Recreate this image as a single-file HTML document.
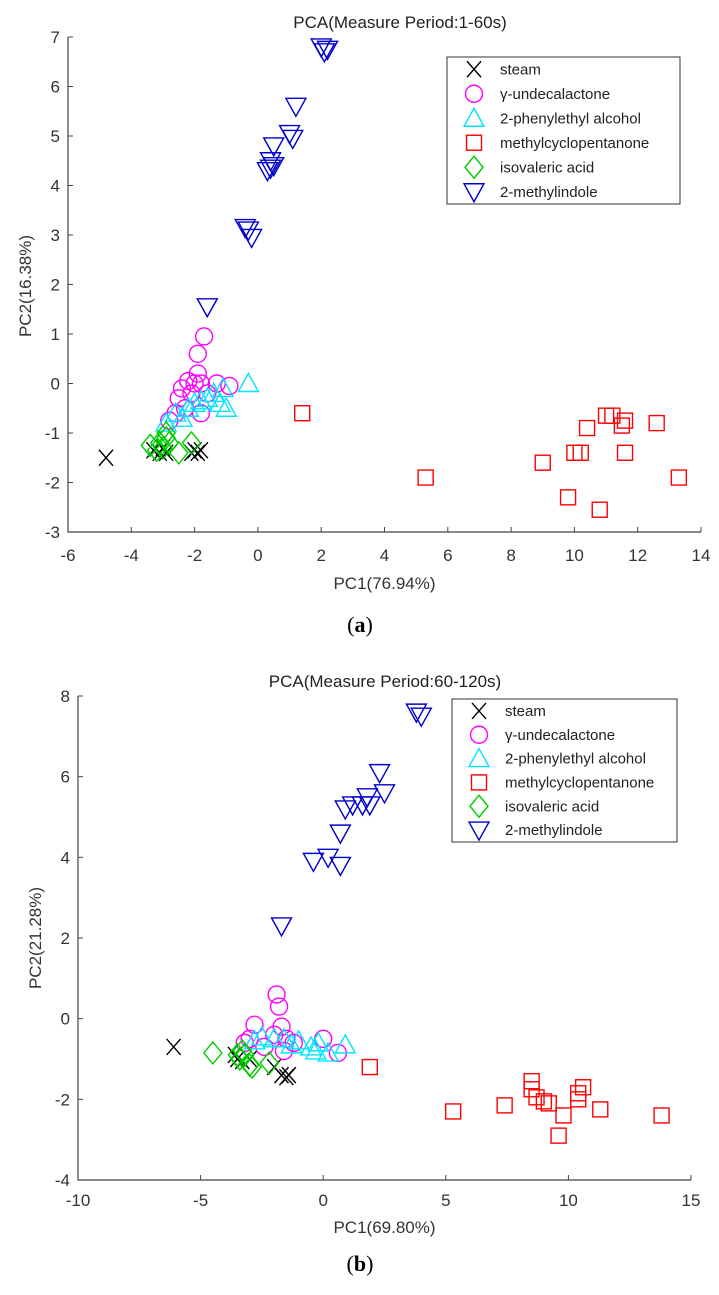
<!DOCTYPE html>
<html><head><meta charset="utf-8"><style>
body{margin:0;background:#fff;width:719px;height:1290px;overflow:hidden;font-family:"Liberation Sans",sans-serif}
svg text{font-family:"Liberation Sans",sans-serif}
.cap{font-family:"Liberation Serif",serif;font-size:22px}
</style></head><body>
<svg id="s" width="719" height="1290"></svg>
<script>
const seriesNames=["steam","γ-undecalactone","2-phenylethyl alcohol","methylcyclopentanone","isovaleric acid","2-methylindole"];
const aXTicks=[-6,-4,-2,0,2,4,6,8,10,12,14];
const aYTicks=[-3,-2,-1,0,1,2,3,4,5,6,7];
const aSteam=[[-4.8,-1.5],[-3.3,-1.35],[-3.1,-1.4],[-2.9,-1.4],[-3.0,-1.3],[-2.0,-1.35],[-1.9,-1.4],[-2.1,-1.4],[-1.8,-1.35]];
const aUnd=[[-1.7,0.95],[-1.9,0.6],[-1.9,0.2],[-2.4,-0.1],[-2.0,0.0],[-1.8,0.0],[-2.2,0.05],[-1.3,0.0],[-0.9,-0.05],[-2.5,-0.3],[-2.1,-0.2],[-2.8,-0.75],[-2.6,-0.6],[-1.8,-0.6],[-2.3,-0.5],[-1.6,-0.2]];
const aPhe=[[-0.3,0.0],[-1.0,-0.5],[-1.2,-0.4],[-1.6,-0.3],[-2.0,-0.4],[-2.2,-0.5],[-2.6,-0.6],[-1.4,-0.2],[-1.8,-0.35],[-1.1,-0.1],[-2.4,-0.7],[-2.9,-0.8]];
const aMcp=[[1.4,-0.6],[5.3,-1.9],[9.0,-1.6],[9.8,-2.3],[10.0,-1.4],[10.2,-1.4],[10.4,-0.9],[10.8,-2.55],[11.0,-0.65],[11.2,-0.65],[11.5,-0.85],[11.6,-0.75],[11.6,-1.4],[12.6,-0.8],[13.3,-1.9]];
const aIso=[[-3.4,-1.25],[-3.1,-1.2],[-2.9,-1.1],[-3.0,-1.3],[-2.8,-1.2],[-3.2,-1.35],[-2.5,-1.4],[-2.1,-1.2],[-2.9,-1.0]];
const aInd=[[2.0,6.8],[2.2,6.75],[2.1,6.7],[1.2,5.6],[1.0,5.05],[1.1,4.95],[0.5,4.8],[0.4,4.5],[0.5,4.4],[0.3,4.3],[0.4,4.35],[-0.4,3.15],[-0.3,3.1],[-0.2,2.95],[-1.6,1.55]];
const bXTicks=[-10,-5,0,5,10,15];
const bYTicks=[-4,-2,0,2,4,6,8];
const bSteam=[[-6.1,-0.7],[-3.5,-1.0],[-3.3,-1.05],[-3.0,-1.0],[-2.0,-1.2],[-1.7,-1.4],[-1.5,-1.45],[-1.4,-1.4],[-3.6,-0.9]];
const bUnd=[[-1.9,0.6],[-1.8,0.3],[-2.8,-0.15],[-1.7,-0.2],[-2.0,-0.4],[-1.5,-0.5],[-3.0,-0.5],[-2.4,-0.7],[-1.6,-0.8],[0.0,-0.5],[0.6,-0.85],[-1.2,-0.6],[-3.2,-0.6]];
const bPhe=[[0.9,-0.65],[-2.5,-0.45],[-2.0,-0.5],[-1.0,-0.55],[-0.5,-0.7],[-0.3,-0.8],[0.2,-0.85],[-1.3,-0.65],[-2.8,-0.55],[-0.2,-0.6],[-1.6,-0.5]];
const bMcp=[[1.9,-1.2],[5.3,-2.3],[7.4,-2.15],[8.5,-1.55],[8.5,-1.75],[8.7,-1.95],[9.0,-2.05],[9.2,-2.1],[9.6,-2.9],[9.8,-2.4],[10.4,-2.0],[10.4,-1.85],[10.6,-1.7],[11.3,-2.25],[13.8,-2.4]];
const bIso=[[-4.5,-0.85],[-3.5,-0.9],[-3.3,-0.8],[-3.2,-0.9],[-3.4,-1.0],[-3.0,-1.15],[-2.9,-1.2],[-2.2,-1.1]];
const bInd=[[3.8,7.6],[4.0,7.5],[2.3,6.1],[2.5,5.6],[1.8,5.5],[1.9,5.3],[1.6,5.3],[1.2,5.3],[0.9,5.2],[0.7,4.6],[0.2,4.0],[0.7,3.8],[-0.4,3.9],[-1.7,2.3]];

const NS="http://www.w3.org/2000/svg";
const svg=document.getElementById('s');
const colors=["#000","#ff00ff","#00e5ff","#ff0000","#00cc00","#0000cc"];
const kinds=["x","o","tu","sq","di","td"];
function mk(tag,attrs,parent){const e=document.createElementNS(NS,tag);for(const k in attrs)e.setAttribute(k,attrs[k]);(parent||svg).appendChild(e);return e;}
function marker(g,k,x,y,c){
  const a={fill:"none",stroke:c,"stroke-width":1.4};let e;
  if(k==="x"){e=mk('path',Object.assign({d:`M${x-7},${y-8}L${x+7},${y+8}M${x-7},${y+8}L${x+7},${y-8}`},a),g);}
  else if(k==="o"){e=mk('ellipse',Object.assign({cx:x,cy:y,rx:8.5,ry:8.5},a),g);}
  else if(k==="tu"){e=mk('path',Object.assign({d:`M${x},${y-10}L${x+10},${y+8}L${x-10},${y+8}Z`},a),g);}
  else if(k==="td"){e=mk('path',Object.assign({d:`M${x},${y+10}L${x+10},${y-8}L${x-10},${y-8}Z`},a),g);}
  else if(k==="sq"){e=mk('rect',Object.assign({x:x-7.5,y:y-7.5,width:15,height:15},a),g);}
  else {e=mk('path',Object.assign({d:`M${x},${y-11}L${x+9},${y}L${x},${y+11}L${x-9},${y}Z`},a),g);}
  return e;
}
function chart(o){
  const g=mk('g',{});
  
  
  const sx=v=>o.x0+(v-o.xt[0])/(o.xt[o.xt.length-1]-o.xt[0])*(o.x1-o.x0);
  const sy=v=>o.y0-(v-o.yt[0])/(o.yt[o.yt.length-1]-o.yt[0])*(o.y0-o.y1);
  const ax=mk('path',{d:`M${o.x0},${o.y1}L${o.x0},${o.y0}L${o.x1},${o.y0}`,fill:"none",stroke:"#444","stroke-width":1.2},g);
  
  
  o.xt.forEach(t=>{const X=sx(t);mk('line',{x1:X,x2:X,y1:o.y0,y2:o.y0-5,stroke:"#444"},g);
    const tx=mk('text',{x:X,y:o.xtl,"text-anchor":"middle","font-size":17,fill:"#333"},g);tx.textContent=t;
    
    });
  o.yt.forEach(t=>{const Y=sy(t);mk('line',{x1:o.x0,x2:o.x0+5,y1:Y,y2:Y,stroke:"#444"},g);
    const tx=mk('text',{x:o.x0-8,y:Y+6,"text-anchor":"end","font-size":17,fill:"#333"},g);tx.textContent=t;
    
    });
  const ti=mk('text',{x:o.tx,y:o.ty,"text-anchor":"middle","font-size":17,fill:"#222"},g);ti.textContent=o.title;
  
  
  const xl=mk('text',{x:(o.x0+o.x1)/2,y:o.xly,"text-anchor":"middle","font-size":17,fill:"#333"},g);xl.textContent=o.xl;
  
  
  const yc=o.ylc;
  const yl=mk('text',{x:o.ylx,y:yc,"text-anchor":"middle","font-size":17,fill:"#333",transform:`rotate(-90 ${o.ylx} ${yc})`},g);yl.textContent=o.yl;
  
  
  o.data.forEach((d,i)=>{const sg=mk('g',{},g);
    
    
    d.forEach(p=>{const m=marker(sg,kinds[i],sx(p[0]),sy(p[1]),colors[i]);
      
      });});
  const L=o.leg;
  const lb=mk('rect',{x:L.x,y:L.y,width:L.w,height:L.h,fill:"#fff",stroke:"#333"},g);
  
  
  const rh=L.h/6;
  seriesNames.forEach((n,i)=>{const cy=L.y+rh*(i+0.5);
    marker(g,kinds[i],L.x+27,cy,colors[i]);
    const t=mk('text',{x:L.x+53,y:cy+5,"font-size":15,fill:"#222"},g);t.textContent=n;
    
    });
}
chart({id:'chart-a',x0:68,x1:701,y0:532,y1:37,xt:aXTicks,yt:aYTicks,title:'PCA(Measure Period:1-60s)',tx:400,ty:28,xtl:561,
  xl:'PC1(76.94%)',xly:589,yl:'PC2(16.38%)',ylx:31,ylc:286,data:[aSteam,aUnd,aPhe,aMcp,aIso,aInd],leg:{x:447,y:57,w:233,h:147}});
chart({id:'chart-b',x0:78,x1:691,y0:1180,y1:696,xt:bXTicks,yt:bYTicks,title:'PCA(Measure Period:60-120s)',tx:385,ty:687,xtl:1206,
  xl:'PC1(69.80%)',xly:1233,yl:'PC2(21.28%)',ylx:41,ylc:938,data:[bSteam,bUnd,bPhe,bMcp,bIso,bInd],leg:{x:452,y:699,w:225,h:143}});
function cap(x,y,l){const t=mk('text',{x:x,y:y,"text-anchor":"middle",class:"cap"});
  t.innerHTML='(<tspan font-weight="bold">'+l+'</tspan>)';
  
  }
cap(360,632,'a');cap(360,1271,'b');
</script>
</body></html>
